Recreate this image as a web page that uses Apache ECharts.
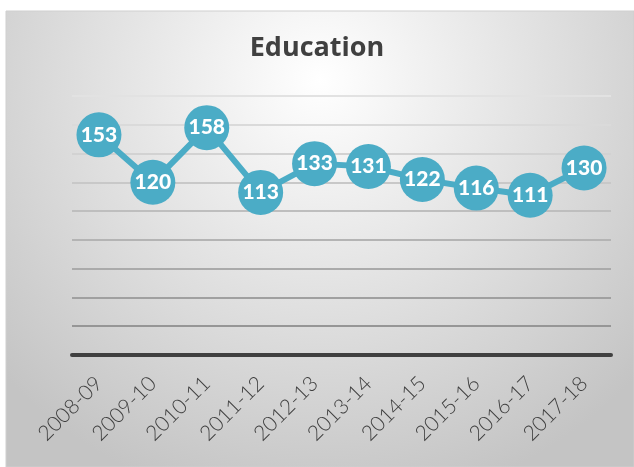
<!DOCTYPE html>
<html>
<head>
<meta charset="utf-8">
<script src="https://cdn.jsdelivr.net/npm/echarts@6/dist/echarts.min.js"></script>
<style>
  html, body { margin: 0; padding: 0; background: #fff; }
  #main { width: 634px; height: 467px; }
</style>
</head>
<body>
<div id="main"></div>
<script>
const years = ['2008-09', '2009-10', '2010-11', '2011-12', '2012-13',
               '2013-14', '2014-15', '2015-16', '2016-17', '2017-18'];
const education = [153, 120, 158, 113, 133, 131, 122, 116, 111, 130];

const chart = echarts.init(document.getElementById('main'));

chart.setOption({
    graphic: [{
        type: 'rect',
        z: -10,
        silent: true,
        shape: {x: 6, y: 11, width: 628, height: 456},
        style: {
            fill: new echarts.graphic.RadialGradient(0.5, 0.15, 0.95, [
                {offset: 0, color: '#ffffff'},
                {offset: 1, color: '#c4c4c4'}
            ]),
            stroke: '#cfcfcf',
            lineWidth: 1
        }
    }],
    title: {
        text: 'Education',
        left: 'center',
        top: 30,
        textStyle: {
            fontFamily: 'Open Sans',
            fontWeight: 'bold',
            fontSize: 27,
            color: '#404040'
        }
    },
    grid: {left: 72, right: 23, top: 96, bottom: 112},
    xAxis: {
        type: 'category',
        data: years,
        boundaryGap: true,
        axisLine: {lineStyle: {color: '#404040', width: 4}},
        axisTick: {show: false},
        axisLabel: {
            rotate: 45,
            margin: 25,
            interval: 0,
            fontFamily: 'Lato',
            fontWeight: 300,
            fontSize: 21,
            color: '#404040'
        }
    },
    yAxis: {
        type: 'value',
        min: 0,
        max: 180,
        interval: 20,
        axisLabel: {show: false},
        axisLine: {show: false},
        axisTick: {show: false},
        splitLine: {
            lineStyle: {
                width: 2,
                color: ['#404040', '#969696', '#a0a0a0', '#aaaaaa', '#b4b4b4',
                        '#bebebe', '#c8c8c8', '#d2d2d2', '#dadada', '#e2e2e2']
            }
        }
    },
    series: [{
        type: 'line',
        data: education,
        symbol: 'circle',
        symbolSize: 45,
        lineStyle: {color: '#4bacc6', width: 6},
        itemStyle: {color: '#4bacc6'},
        label: {
            show: true,
            position: 'inside',
            color: '#ffffff',
            fontFamily: 'Lato',
            fontWeight: 900,
            fontSize: 21
        }
    }]
});
</script>
</body>
</html>
